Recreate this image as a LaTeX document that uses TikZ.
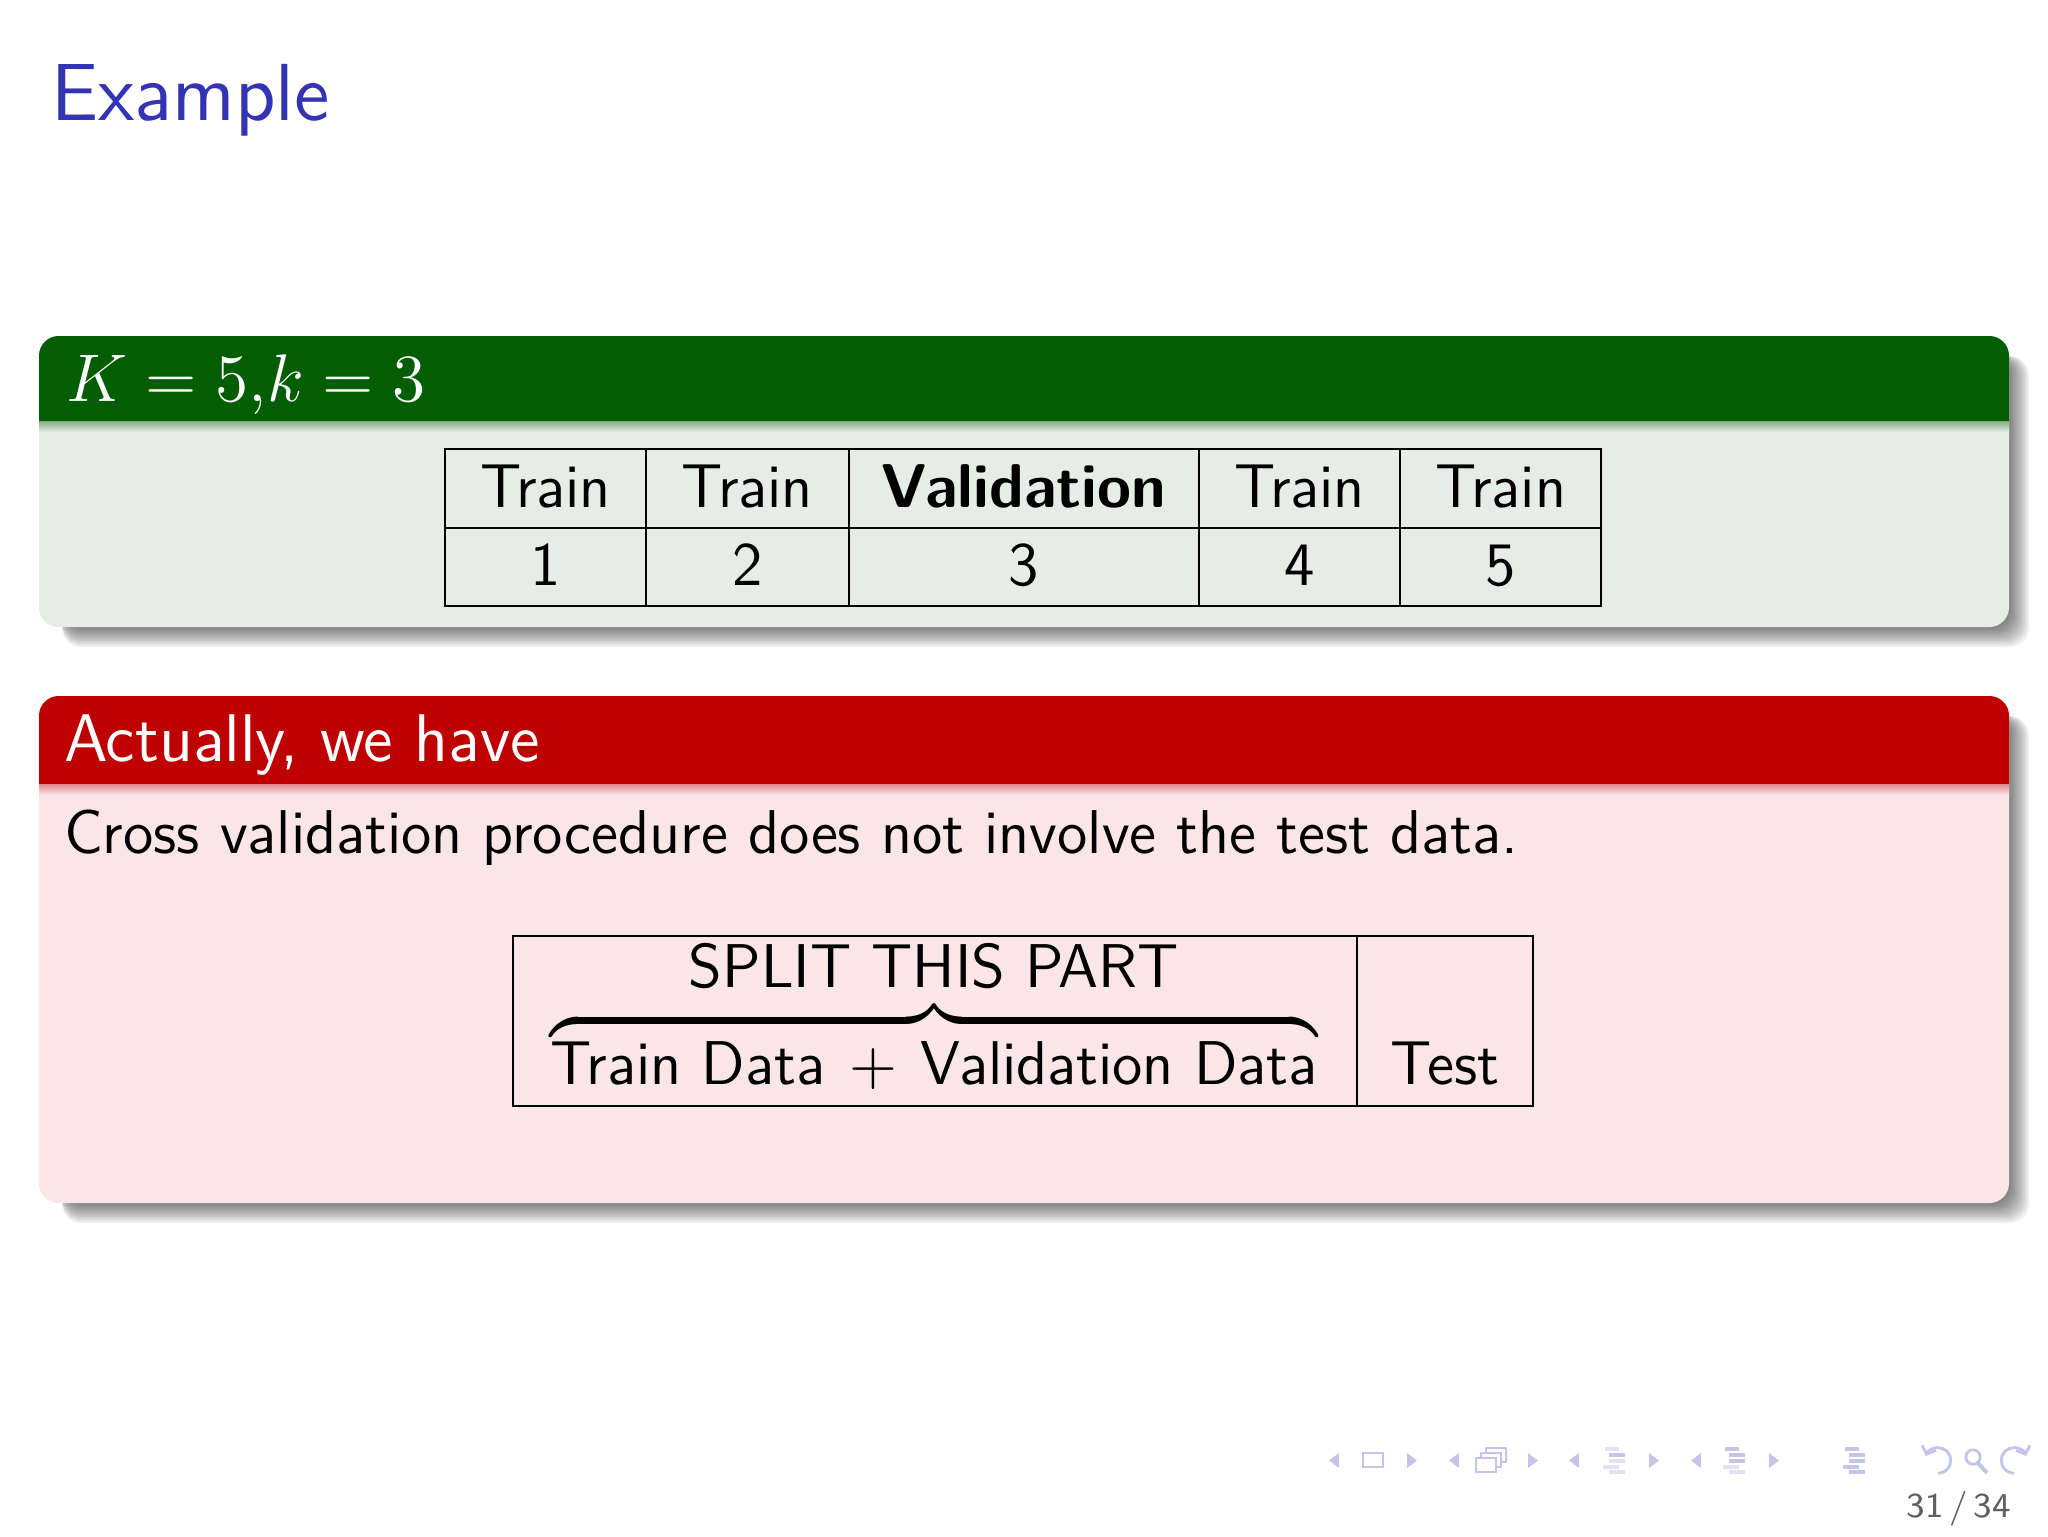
\documentclass[tikz,border=0pt]{standalone}
\usepackage{amsmath}
\usepackage{fontspec}
\usetikzlibrary{fit,arrows.meta}
\definecolor{titleblue}{RGB}{51,51,179}
\definecolor{exhead}{RGB}{3,94,3}
\definecolor{exbody}{RGB}{230,236,230}
\definecolor{alhead}{RGB}{190,0,0}
\definecolor{albody}{RGB}{250,230,231}
\definecolor{navcol}{RGB}{196,196,232}
\definecolor{pagegray}{RGB}{95,95,95}
\begin{document}
\begin{tikzpicture}[x=0.00625cm,y=-0.00625cm,
  every node/.style={font=\sffamily\fontsize{11}{13}\selectfont, inner sep=0pt},
  bodytext/.style={font=\sffamily\fontsize{11}{13}\selectfont\addfontfeatures{WordSpace=1.25}},
  headtext/.style={font=\sffamily\fontsize{12}{14}\selectfont, text=white},
  cell/.style={draw=black, line width=0.45pt, inner sep=0pt},
  shadowbox/.style={black, opacity=0.06, rounded corners=3.5pt},
  navtri/.style={fill=navcol},
  navline/.style={draw=navcol, line width=0.55pt},
  navicon/.style={draw=navcol, line width=0.45pt}]
\useasboundingbox (0,0) rectangle (2048,1536);
\fill[white] (0,0) rectangle (2048,1536);

% title
\node[anchor=base west, text=titleblue, font=\sffamily\fontsize{14.4}{17}\selectfont] (title) at (50,120) {Example};

% ---------- example block ----------
\foreach \d in {2,4,...,20} {
  \fill[shadowbox] (62,356) rectangle (2009+\d,627+\d);
}
\fill[exbody, rounded corners=3.5pt] (39,336) rectangle (2009,627);
\fill[exhead] (39,421) [rounded corners=3.5pt] -- (39,336) -- (2009,336) [sharp corners] -- (2009,421) -- cycle;
\shade[top color=exhead!45!exbody, bottom color=exbody] (39,421) rectangle (2009,432);
\node[anchor=base west, headtext] (kk) at (65,401) {$K = 5{,}k = 3$};

% table
\node[cell, fit={(445,449)(646,528)}] (h1) {};
\node[cell, fit={(646,449)(849,528)}] (h2) {};
\node[cell, fit={(849,449)(1199,528)}] (h3) {};
\node[cell, fit={(1199,449)(1400,528)}] (h4) {};
\node[cell, fit={(1400,449)(1601,528)}] (h5) {};
\node[cell, fit={(445,528)(646,606)}] (n1) {};
\node[cell, fit={(646,528)(849,606)}] (n2) {};
\node[cell, fit={(849,528)(1199,606)}] (n3) {};
\node[cell, fit={(1199,528)(1400,606)}] (n4) {};
\node[cell, fit={(1400,528)(1601,606)}] (n5) {};
\node[anchor=base] (th1) at (545.5,507) {Train};
\node[anchor=base] (th2) at (747.5,507) {Train};
\node[anchor=base] (th3) at (1024,507) {\bfseries Validation};
\node[anchor=base] (th4) at (1299.5,507) {Train};
\node[anchor=base] (th5) at (1500.5,507) {Train};
\node[anchor=base] (tn1) at (545.5,585) {1};
\node[anchor=base] (tn2) at (747.5,585) {2};
\node[anchor=base] (tn3) at (1024,585) {3};
\node[anchor=base] (tn4) at (1299.5,585) {4};
\node[anchor=base] (tn5) at (1500.5,585) {5};

% ---------- alert block ----------
\foreach \d in {2,4,...,20} {
  \fill[shadowbox] (62,716) rectangle (2009+\d,1203+\d);
}
\fill[albody, rounded corners=3.5pt] (39,696) rectangle (2009,1203);
\fill[alhead] (39,784) [rounded corners=3.5pt] -- (39,696) -- (2009,696) [sharp corners] -- (2009,784) -- cycle;
\shade[top color=alhead!40!albody, bottom color=albody] (39,784) rectangle (2009,795);
\node[anchor=base west, headtext] (act) at (63,761) {Actually, we have};
\node[anchor=base west, bodytext] (cv) at (63,853) {Cross validation procedure does not involve the test data.};

\node[cell, fit={(513,936)(1357,1106)}] (tvbox) {};
\node[cell, fit={(1357,936)(1533,1106)}] (testbox) {};
\node[anchor=base, bodytext] (test) at (1445,1084) {Test};
\node[anchor=base, bodytext] (tv) at (934,1084) {$\overbrace{\mbox{Train Data}\mathbin{\,+\,}\mbox{Validation Data}}^{\mbox{SPLIT THIS PART}}$};

% ---------- navigation symbols ----------
\foreach \x in {1334,1454,1574,1696} {
  \fill[navtri] (\x+5,1453) -- (\x-5,1460.5) -- (\x+5,1468) -- cycle;
}
\foreach \x in {1412,1533,1654,1774} {
  \fill[navtri] (\x-5,1453) -- (\x+5,1460.5) -- (\x-5,1468) -- cycle;
}
\draw[navicon] (1363,1453) rectangle (1383,1467);
\draw[navicon, fill=white] (1486,1448) rectangle (1506,1462);
\draw[navicon, fill=white] (1481,1453) rectangle (1501,1467);
\draw[navicon, fill=white] (1476,1458) rectangle (1496,1472);
% section/subsection icons
\draw[navline, draw=navcol!50] (1605,1449) -- (1619,1449);
\draw[navline] (1609,1455) -- (1625,1455);
\draw[navline, draw=navcol!50] (1609,1461) -- (1625,1461);
\draw[navline, draw=navcol!50] (1603,1467) -- (1619,1467);
\draw[navline, draw=navcol!50] (1609,1472) -- (1625,1472);
\draw[navline] (1725,1449) -- (1739,1449);
\draw[navline] (1729,1455) -- (1745,1455);
\draw[navline] (1729,1461) -- (1745,1461);
\draw[navline, draw=navcol!50] (1723,1467) -- (1739,1467);
\draw[navline, draw=navcol!50] (1729,1472) -- (1745,1472);
\draw[navline] (1845,1449) -- (1859,1449);
\draw[navline] (1849,1455) -- (1865,1455);
\draw[navline] (1849,1461) -- (1865,1461);
\draw[navline] (1843,1467) -- (1859,1467);
\draw[navline] (1849,1472) -- (1865,1472);
% undo, search, redo
\draw[navicon, line width=0.5pt, {Straight Barb[length=1.2pt,width=2.6pt]}-] (1926,1456) arc[start angle=160, end angle=-90, radius=0.08cm];
\draw[navicon, line width=0.5pt] (1973,1457) circle[radius=0.045cm];
\draw[navicon, line width=0.7pt] (1978,1463) -- (1987,1473);
\draw[navicon, line width=0.5pt, {Straight Barb[length=1.2pt,width=2.6pt]}-] (2026,1456) arc[start angle=20, end angle=270, radius=0.08cm];

\node[anchor=base east, text=pagegray, font=\sffamily\fontsize{6.2}{8}\selectfont] (pg) at (2012,1517) {31\,/\,34};
\end{tikzpicture}
\end{document}
